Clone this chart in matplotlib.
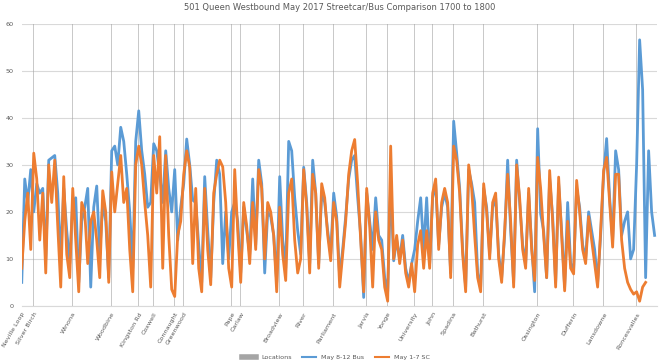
import matplotlib.pyplot as plt
from matplotlib.lines import Line2D
import numpy as np

# stop names along the route and their position in the sample index
locations = ['Neville Loop', 'Silver Birch', 'Winona', 'Woodbine', 'Kingston Rd', 'Coxwell',
             'Connaught', 'Greenwood', 'Pape', 'Carlaw', 'Broadview', 'River', 'Parliament',
             'Jarvis', 'Yonge', 'University', 'John', 'Spadina', 'Bathurst', 'Ossington',
             'Dufferin', 'Lansdowne', 'Roncesvalles']
location_idx = [0, 4, 17, 30, 39, 44, 51, 54, 70, 73, 86, 94, 104, 115, 122, 131, 137, 144,
                154, 172, 184, 194, 205]

# May 8-12 bus speeds (km/h)
bus = [5, 27, 22, 29, 20, 26, 24, 25, 10, 31,
       31.5, 32, 24, 10, 25, 16, 9, 22, 23, 5,
       18, 21, 25, 4, 21, 25.5, 11, 22, 18, 6,
       33, 34, 30, 38, 35, 28, 20, 8, 35, 41.5,
       33, 28, 21, 22, 34.5, 33, 28, 22, 33, 25,
       20, 29, 14, 21, 26, 35.5, 30, 22.5, 22, 13,
       5, 27.5, 16, 6, 22, 31, 28, 9, 20, 10,
       20, 22, 18, 7, 21, 16, 11, 27, 13, 31,
       26, 7, 20, 19, 15, 5, 27.5, 14, 8, 35,
       33, 23, 16, 11, 29.5, 22, 9, 31, 24, 9,
       24, 22, 16, 11, 24, 19, 6, 12, 19, 27,
       31, 32, 23, 15, 1.8, 24, 18, 12, 23, 15,
       14, 6, 3, 26, 9.6, 14, 10, 15, 8, 5,
       9, 12, 18, 23, 12, 23, 9, 23, 26, 13,
       21, 24, 21, 7, 39.3, 32.5, 25, 12, 4, 29,
       26, 22, 7, 4, 25, 21, 11, 21, 23, 11,
       6, 15, 31, 16, 5, 31, 22, 13, 9, 24,
       13, 3, 37.7, 19.6, 16, 6, 27, 19, 5, 26,
       16, 4, 22, 9, 8, 25, 21, 13, 10, 20,
       16, 12, 5, 15, 28, 35.6, 23, 14, 33, 29,
       15, 18, 20, 10, 12, 30, 56.6, 46, 6, 33,
       20, 15]

# May 1-7 streetcar speeds (km/h)
streetcar = [8, 18, 24, 12, 32.5, 27, 14, 24, 7, 30,
             22, 31, 17, 4, 27.5, 11, 6, 25, 14, 3,
             22, 20, 9, 18, 20, 14, 6, 24.5, 20, 5,
             28.5, 20, 26, 32, 22, 25, 12, 3, 30, 34,
             30, 22, 15, 4, 32, 24, 36, 8, 32, 15,
             3.5, 2, 15, 18, 28, 33, 29.5, 9, 25, 8,
             3, 25, 12, 4.5, 24, 28, 31, 29.6, 22, 8,
             4, 29, 16, 5, 22, 17, 9, 22, 12, 29,
             25, 10, 22, 20, 15, 3, 21, 11, 5.4, 24,
             27, 14, 7, 10, 29, 21, 7, 28, 24, 8,
             26, 23, 15, 9.6, 22, 18, 4, 11, 18, 28,
             33, 35.4, 26, 14, 3, 25, 17, 4, 20, 14,
             12, 4, 1, 34, 10, 15, 9, 14, 7, 4,
             9, 3, 13, 16, 8, 16, 8, 24, 27, 12,
             22, 25, 22, 6, 34, 31, 24, 11, 3, 30,
             25, 15, 6, 3, 26, 20, 10, 22, 24, 10,
             5, 16, 28, 18, 4, 30, 23, 12, 8, 25,
             12, 5.4, 31.6, 25, 15, 6, 28.8, 18, 4, 27.4,
             15, 3.2, 18, 8, 6.8, 26.7, 20, 12, 9, 19,
             14, 9, 4, 16, 28.8, 31.6, 22, 12.5, 28, 28,
             14, 8, 5, 3.5, 2.5, 3, 1, 4, 5]

text_col = '#595959'
blue = '#5B9BD5'
orange = '#ED7D31'
gray = '#A5A5A5'

fig = plt.figure(figsize=(6.59, 3.62), dpi=100)
ax = fig.add_axes([0.033, 0.155, 0.964, 0.779])

ax.bar(location_idx, [60] * len(location_idx), width=0.3, color=gray, alpha=0.6, zorder=1)
ax.plot(np.arange(len(bus)), bus, color=blue, linewidth=2.0, zorder=2)
ax.plot(np.arange(len(streetcar)), streetcar, color=orange, linewidth=2.0, zorder=3)

ax.set_xlim(0, 211.8)
ax.set_ylim(0, 60)
ax.set_yticks(np.arange(0, 61, 10))
ax.yaxis.grid(True, color='#d9d9d9', linewidth=0.8)
ax.set_axisbelow(True)

ax.set_xticks(location_idx)
ax.set_xticklabels(locations, rotation=60, ha='right', rotation_mode='anchor',
                   fontsize=4.6, color=text_col)
ax.tick_params(axis='x', length=0, pad=4)
ax.tick_params(axis='y', length=0, labelsize=4.6, labelcolor=text_col, pad=6)

for side in ['top', 'right', 'left']:
    ax.spines[side].set_visible(False)
ax.spines['bottom'].set_color('#d9d9d9')

ax.set_title('501 Queen Westbound May 2017 Streetcar/Bus Comparison 1700 to 1800',
             fontsize=6.0, color=text_col, pad=10)

handles = [Line2D([], [], color=gray, linewidth=4),
           Line2D([], [], color=blue, linewidth=1.5),
           Line2D([], [], color=orange, linewidth=1.5)]
fig.legend(handles, ['Locations', 'May 8-12 Bus', 'May 1-7 SC'], loc='lower center',
           bbox_to_anchor=(0.51, -0.01), ncol=3, frameon=False, fontsize=4.6,
           labelcolor=text_col, handlelength=2.2, columnspacing=1.6)

fig.savefig('out.png', dpi=100)
